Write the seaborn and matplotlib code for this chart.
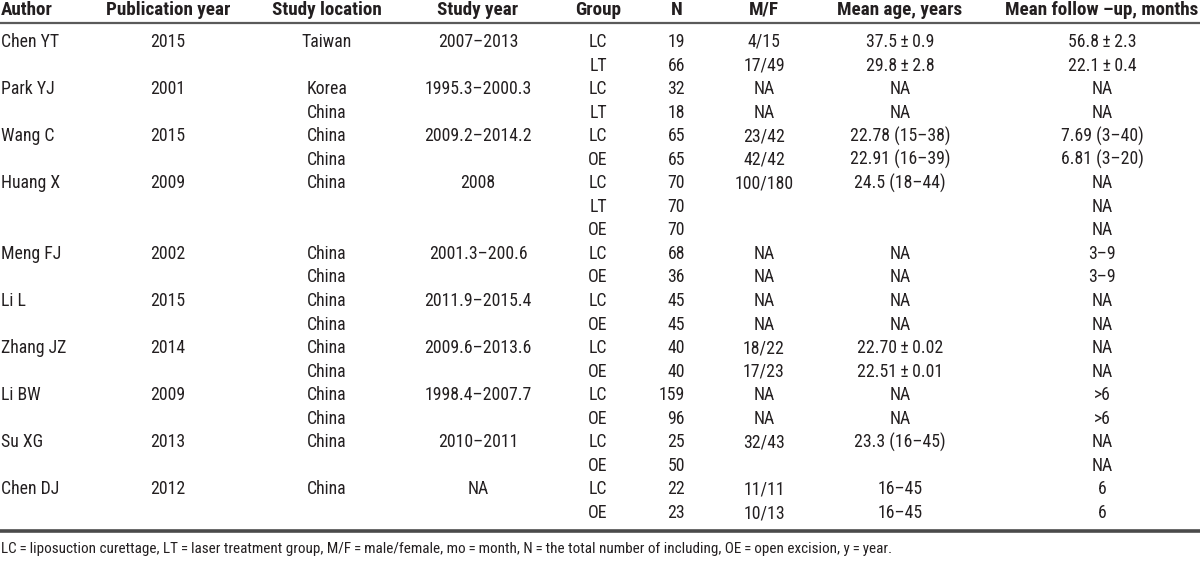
import matplotlib
matplotlib.use("Agg")
import matplotlib.pyplot as plt
import seaborn as sns
from matplotlib import font_manager as fm
from matplotlib.textpath import TextPath

# ---------------- data ----------------
headers = ["Author", "Publication year", "Study location", "Study year", "Group",
           "N", "M/F", "Mean age, years", "Mean follow \u2013up, months"]

authors = ["Chen YT", "", "Park YJ", "", "Wang C", "", "Huang X", "", "", "Meng FJ", "",
           "Li L", "", "Zhang JZ", "", "Li BW", "", "Su XG", "", "Chen DJ", ""]
pub_years = ["2015", "", "2001", "", "2015", "", "2009", "", "", "2002", "",
             "2015", "", "2014", "", "2009", "", "2013", "", "2012", ""]
locations = ["Taiwan", "", "Korea", "China", "China", "China", "China", "", "", "China", "China",
             "China", "China", "China", "China", "China", "China", "China", "", "China", ""]
study_years = ["2007\u20132013", "", "1995.3\u20132000.3", "", "2009.2\u20132014.2", "", "2008", "", "",
               "2001.3\u2013200.6", "", "2011.9\u20132015.4", "", "2009.6\u20132013.6", "",
               "1998.4\u20132007.7", "", "2010\u20132011", "", "NA", ""]
groups = ["LC", "LT", "LC", "LT", "LC", "OE", "LC", "LT", "OE", "LC", "OE",
          "LC", "OE", "LC", "OE", "LC", "OE", "LC", "OE", "LC", "OE"]
n_values = ["19", "66", "32", "18", "65", "65", "70", "70", "70", "68", "36",
            "45", "45", "40", "40", "159", "96", "25", "50", "22", "23"]
mf_values = ["4/15", "17/49", "NA", "NA", "23/42", "42/42", "100/180", "", "", "NA", "NA",
             "NA", "NA", "18/22", "17/23", "NA", "NA", "32/43", "", "11/11", "10/13"]
mean_ages = ["37.5\u2009\u00b1\u20090.9", "29.8\u2009\u00b1\u20092.8", "NA", "NA",
             "22.78 (15\u201338)", "22.91 (16\u201339)", "24.5 (18\u201344)", "", "", "NA", "NA",
             "NA", "NA", "22.70\u2009\u00b1\u20090.02", "22.51\u2009\u00b1\u20090.01", "NA", "NA",
             "23.3 (16\u201345)", "", "16\u201345", "16\u201345"]
follow_ups = ["56.8\u2009\u00b1\u20092.3", "22.1\u2009\u00b1\u20090.4", "NA", "NA",
              "7.69 (3\u201340)", "6.81 (3\u201320)", "NA", "NA", "NA", "3\u20139", "3\u20139",
              "NA", "NA", "NA", "NA", ">6", ">6", "NA", "NA", "6", "6"]
footnote = ("LC\u2009=\u2009liposuction curettage, LT\u2009=\u2009laser treatment group, "
            "M/F\u2009=\u2009male/female, mo\u2009=\u2009month, N\u2009=\u2009the total number of including, "
            "OE\u2009=\u2009open excision, y\u2009=\u2009year.")

columns = [authors, pub_years, locations, study_years, groups, n_values,
           mf_values, mean_ages, follow_ups]

# ---------------- font choice (prefer a condensed sans) ----------------
sns.set_theme(style="white")

entries = fm.fontManager.ttflist
names = {f.name for f in entries}
family, stretch = "Liberation Sans", "normal"
for cand in ["Liberation Sans Narrow", "Roboto Condensed", "Open Sans Condensed",
             "Noto Sans Condensed", "DejaVu Sans Condensed", "Arial Narrow"]:
    if cand in names:
        family, stretch = cand, "condensed"
        break
else:
    for cand in ["DejaVu Sans", "Noto Sans", "Liberation Sans"]:
        if any(f.name == cand and str(f.stretch) in ("condensed", "semi-condensed", "extra-condensed")
               for f in entries):
            family, stretch = cand, "condensed"
            break

plt.rcParams["font.family"] = [family, "Liberation Sans", "DejaVu Sans"]
plt.rcParams["font.stretch"] = stretch

DPI = 100


def fit_size(samples, targets_px, weight="normal"):
    fp = fm.FontProperties(family=[family], stretch=stretch, weight=weight)
    w = sum(TextPath((0, 0), s, size=1, prop=fp).get_extents().width for s in samples)
    return sum(targets_px) / w * 72 / DPI


fs_head = fit_size(["Author", "Publication year", "Study year", "Group",
                    "Mean age, years", "Mean follow \u2013up, months"],
                   [50, 123, 80, 43, 123, 195], weight="bold")
fs_body = fit_size(["2007\u20132013", "Chen YT", "37.5\u2009\u00b1\u20090.9",
                    "56.8\u2009\u00b1\u20092.3", "7.69 (3\u201340)", "22.78 (15\u201338)"],
                   [80, 48, 65, 72, 82, 100])
fs_foot = fit_size([footnote], [888])

# ---------------- layout ----------------
W, H = 1200, 562
fig = plt.figure(figsize=(W / DPI, H / DPI), dpi=DPI)
ax = fig.add_axes([0, 0, 1, 1])
ax.set_xlim(0, W)
ax.set_ylim(H, 0)
ax.axis("off")

text_color = "#231f20"
header_x = [1, 168, 327, 478, 598, 677, 764, 900, 1102]
header_ha = ["left"] + ["center"] * 8
value_x = [1, 168, 327, 478, 598, 685, 764, 900, 1102]
value_ha = ["left", "center", "center", "center", "center", "right", "center", "center", "center"]

header_y = 10
row_y0 = 42
row_dy = 23.55

for x, ha, h in zip(header_x, header_ha, headers):
    ax.text(x, header_y, h, ha=ha, va="center", fontsize=fs_head,
            fontweight="bold", color=text_color)

ax.axhline(23, color="#5a5a5a", lw=1.6)

for x, ha, col in zip(value_x, value_ha, columns):
    for i, val in enumerate(col):
        if val:
            ax.text(x, row_y0 + i * row_dy, val, ha=ha, va="center",
                    fontsize=fs_body, color=text_color)

ax.axhline(531, color="#4a4a4a", lw=2.6)
ax.text(1, 549, footnote, ha="left", va="center", fontsize=fs_foot, color=text_color)

fig.savefig("out.png", dpi=DPI, facecolor="white")
